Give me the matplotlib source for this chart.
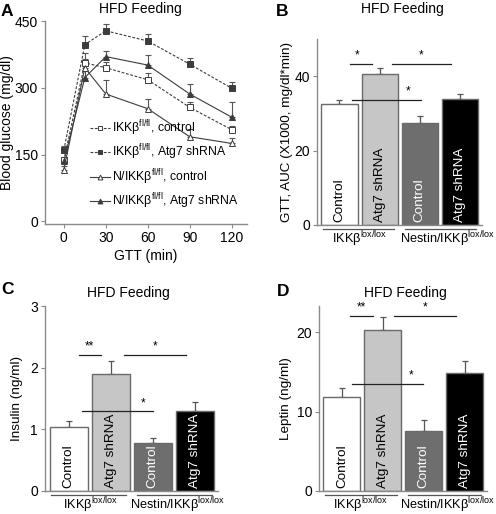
import numpy as np
import matplotlib
matplotlib.use("Agg")
import matplotlib.pyplot as plt
from matplotlib.lines import Line2D
import matplotlib.transforms as mtransforms

plt.rcParams['font.family'] = ['Liberation Sans', 'DejaVu Sans']
plt.rcParams['mathtext.fontset'] = 'custom'
plt.rcParams['mathtext.rm'] = 'Liberation Sans'
plt.rcParams['mathtext.it'] = 'Liberation Sans'

# ---------------- data ----------------
times = [0, 15, 30, 60, 90, 120]
ikk_ctrl = [137, 356, 345, 318, 256, 206]
ikk_ctrl_err = [8, 22, 14, 15, 13, 8]
ikk_atg7 = [160, 397, 428, 405, 353, 299]
ikk_atg7_err = [10, 20, 16, 15, 14, 13]
n_ctrl = [116, 345, 286, 253, 190, 175]
n_ctrl_err = [8, 20, 31, 22, 17, 13]
n_atg7 = [135, 323, 370, 351, 286, 234]
n_atg7_err = [8, 18, 13, 23, 22, 35]
series_labels = [r'IKKβ$^{\mathrm{fl/fl}}$, control',
                 r'IKKβ$^{\mathrm{fl/fl}}$, Atg7 shRNA',
                 r'N/IKKβ$^{\mathrm{fl/fl}}$, control',
                 r'N/IKKβ$^{\mathrm{fl/fl}}$, Atg7 shRNA']

bar_labels = ['Control', 'Atg7 shRNA', 'Control', 'Atg7 shRNA']
group_labels = [r'IKKβ$^{\mathrm{lox/lox}}$', r'Nestin/IKKβ$^{\mathrm{lox/lox}}$']

auc = [32.5, 40.7, 27.3, 33.9]
auc_err = [1.1, 1.6, 1.9, 1.2]
insulin = [1.03, 1.90, 0.78, 1.30]
insulin_err = [0.10, 0.21, 0.08, 0.15]
leptin = [11.8, 20.3, 7.6, 14.9]
leptin_err = [1.2, 1.6, 1.3, 1.5]

bar_colors = ['#ffffff', '#c6c6c6', '#6e6e6e', '#000000']
text_colors = ['black', 'black', 'white', 'white']

W, H = 496, 514
fig = plt.figure(figsize=(W / 100, H / 100), dpi=100)

def rect(l, t, r, b):
    return [l / W, (H - b) / H, (r - l) / W, (b - t) / H]

spine_col = '#8a8a8a'
FS = 10

def style_ax(ax):
    for s in ['top', 'right']:
        ax.spines[s].set_visible(False)
    for s in ['left', 'bottom']:
        ax.spines[s].set_color(spine_col)
        ax.spines[s].set_linewidth(1.0)
    ax.tick_params(axis='both', colors=spine_col, labelcolor='black',
                   labelsize=FS, length=3, width=0.8, direction='out', pad=2)

def title_at(xpx, ypx, txt='HFD Feeding'):
    fig.text(xpx / W, 1 - ypx / H, txt, fontsize=FS, ha='center', va='center')

# ---------------- Panel A ----------------
axA = fig.add_axes(rect(45, 21, 247, 224))
style_ax(axA)
lc = '#3c3c3c'
specs = [
    (ikk_ctrl, ikk_ctrl_err, 's', 'white', (0, (2.5, 1.5))),
    (ikk_atg7, ikk_atg7_err, 's', lc, (0, (2.5, 1.5))),
    (n_ctrl, n_ctrl_err, '^', 'white', '-'),
    (n_atg7, n_atg7_err, '^', lc, '-'),
]
handles = []
for (vals, errs, mk, fc, ls), lab in zip(specs, series_labels):
    axA.errorbar(times, vals, yerr=[np.zeros(len(errs)), errs], fmt='none',
                 ecolor='#555555', elinewidth=0.8, capsize=2, capthick=0.8, zorder=2)
    axA.plot(times, vals, linestyle=ls, color=lc, linewidth=0.8, marker=mk,
             markersize=4, markerfacecolor=fc, markeredgecolor=lc,
             markeredgewidth=0.7, zorder=3)
    handles.append(Line2D([], [], linestyle=ls, color=lc, linewidth=0.8, marker=mk,
                          markersize=3.5, markerfacecolor=fc, markeredgecolor=lc,
                          markeredgewidth=0.7, label=lab))
axA.set_xlim(-13.5, 131)
axA.set_ylim(-6, 450)
axA.spines['left'].set_bounds(-6, 450)
axA.set_xticks([0, 30, 60, 90, 120])
axA.set_yticks([0, 150, 300, 450])
axA.set_xlabel('GTT (min)', fontsize=FS, labelpad=3)
axA.set_ylabel('Blood glucose (mg/dl)', fontsize=FS)
axA.yaxis.set_label_coords(-0.155, 0.5)
title_at(140, 9)
axA.legend(handles=handles, loc='lower left', bbox_to_anchor=(0.2, 0.04),
           frameon=False, fontsize=8.8, handlelength=1.6, handletextpad=0.2,
           labelspacing=0.4, borderaxespad=0)
fig.text(1 / W, 1 - 11 / H, 'A', fontsize=12.5, fontweight='bold', va='center')

# ---------------- bar panels ----------------
def bar_panel(box, vals, errs, ylim, yticks, ylabel, ylab_x, sig, letter, letter_xy,
              title_xy, grp_x):
    ax = fig.add_axes(rect(*box))
    style_ax(ax)
    x = np.arange(len(vals))
    ax.bar(x, vals, width=0.9, color=bar_colors, edgecolor='#6a6a6a', linewidth=1.0, zorder=2)
    ax.errorbar(x, vals, yerr=[np.zeros(len(errs)), errs], fmt='none',
                ecolor='#555555', elinewidth=0.9, capsize=2.5, capthick=0.9, zorder=1)
    ax.set_xlim(-0.56, 3.55)
    ax.set_ylim(*ylim)
    ax.set_yticks(yticks)
    ax.set_xticks([])
    ax.set_ylabel(ylabel, fontsize=FS - 0.3)
    ax.yaxis.set_label_coords(ylab_x, 0.5)
    title_at(*title_xy)
    off = ylim[1] * 0.015
    for xi, lab, tc in zip(x, bar_labels, text_colors):
        ax.text(xi, off, lab, rotation=90, ha='center', va='bottom',
                color=tc, fontsize=FS - 0.3, zorder=4)
    for (x0, x1, yv, xs, star) in sig:
        ax.plot([x0, x1], [yv, yv], color='#222222', linewidth=0.9, zorder=3)
        ax.text(xs, yv + ylim[1] * 0.012, star, ha='center', va='bottom',
                fontsize=FS - 1.5, zorder=3)
    # group brackets and labels below the axis (offsets in pixels)
    bottom_px = box[3]
    tr = mtransforms.blended_transform_factory(ax.transData, fig.transFigure)
    yline = 1 - (bottom_px + 3.5) / H
    ytext = 1 - (bottom_px + 18) / H
    for (x0, x1) in [(-0.42, 1.36), (1.62, 3.4)]:
        ax.plot([x0, x1], [yline, yline], color='#555555', linewidth=0.9,
                transform=tr, clip_on=False)
    for gx, gl in zip(grp_x, group_labels):
        ax.text(gx, ytext, gl, transform=tr, ha='center', va='baseline', fontsize=9.2)
    fig.text(letter_xy[0] / W, 1 - letter_xy[1] / H, letter, fontsize=12.5,
             fontweight='bold', va='center')
    return ax

bar_panel((317, 39, 482, 225), auc, auc_err, (0, 50), [0, 20, 40],
          'GTT, AUC (X1000, mg/dl*min)', -0.145,
          [(0.27, 0.8, 43.4, 0.44, '*'), (1.31, 2.77, 43.4, 2.02, '*'),
           (0.31, 2.02, 33.6, 1.71, '*')],
          'B', (276, 11), (402, 9), (0.51, 2.68))

bar_panel((45, 306, 218, 491), insulin, insulin_err, (0, 3), [0, 1, 2, 3],
          'Insulin (ng/ml)', -0.128,
          [(0.24, 0.77, 2.21, 0.5, '**'), (1.31, 2.79, 2.21, 2.05, '*'),
           (0.32, 2.0, 1.29, 1.77, '*')],
          'C', (1, 289), (128, 293), (0.52, 2.59))

bar_panel((319, 306, 487, 491), leptin, leptin_err, (0, 23.3), [0, 10, 20],
          'Leptin (ng/ml)', -0.158,
          [(0.2, 0.76, 22.1, 0.48, '**'), (1.28, 2.8, 22.1, 2.04, '*'),
           (0.24, 1.99, 13.46, 1.7, '*')],
          'D', (277, 291), (405, 293), (0.47, 2.58))

fig.savefig('out.png', dpi=100)
